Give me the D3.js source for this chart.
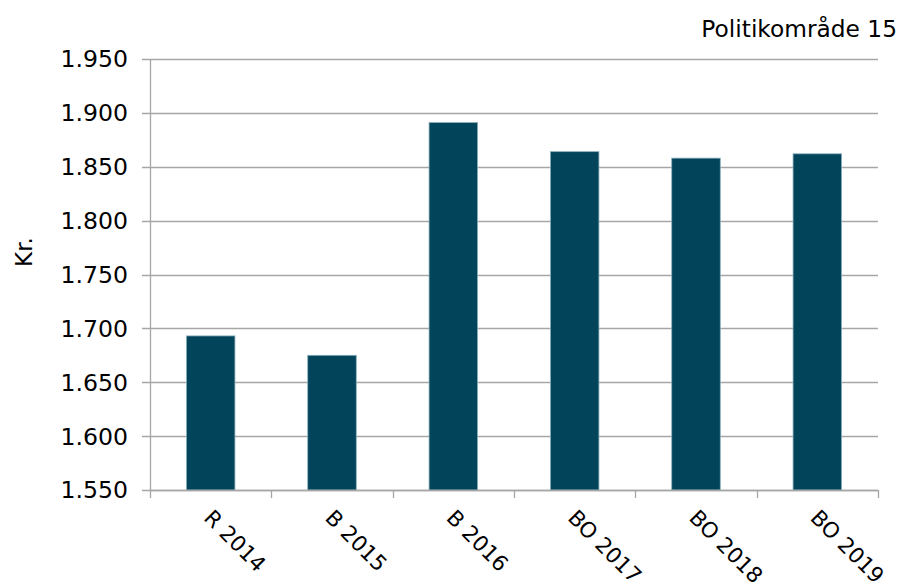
<!DOCTYPE html>
<html><head><meta charset="utf-8">
<script src="https://cdn.jsdelivr.net/npm/d3@7"></script>
<style>body{margin:0;background:#fff}svg{display:block}text{font-family:"DejaVu Sans",Verdana,sans-serif;fill:#000}</style>
</head><body>
<svg id="c" width="903" height="586"></svg>
<script>
const categories = ["R 2014","B 2015","B 2016","BO 2017","BO 2018","BO 2019"];
const values = [1.693,1.675,1.891,1.864,1.858,1.862];
const yTicks = [1.55,1.60,1.65,1.70,1.75,1.80,1.85,1.90,1.95];
const title = "Politikområde 15";
const yLabel = "Kr.";

const svg = d3.select("#c");
const L=150,R=878,T=59,B=490;
const x = d3.scaleBand().domain(categories).range([L,R]).paddingInner(0.6).paddingOuter(0.3);
const y = d3.scaleLinear().domain([1.55,1.95]).range([B,T]);
const grid="#a6a6a6";

// gridlines + y ticks
svg.append("g").selectAll("line").data(yTicks).join("line")
  .attr("x1",L-8).attr("x2",R).attr("y1",d=>Math.round(y(d))+0.5).attr("y2",d=>Math.round(y(d))+0.5)
  .attr("stroke",grid).attr("stroke-width",1.3);
svg.append("g").selectAll("text").data(yTicks).join("text")
  .attr("x",L-22).attr("y",d=>y(d)).attr("dy","0.36em").attr("text-anchor","end")
  .attr("font-size",23.6).text(d=>d3.format(".3f")(d));
// y axis line
svg.append("line").attr("x1",L+0.5).attr("x2",L+0.5).attr("y1",T).attr("y2",B).attr("stroke",grid).attr("stroke-width",1.3);

// bars
svg.append("g").selectAll("rect").data(values).join("rect")
  .attr("x",(d,i)=>x(categories[i])).attr("width",x.bandwidth())
  .attr("y",d=>y(d)).attr("height",d=>B-y(d))
  .attr("fill","#02445a").attr("stroke","#8aaebd").attr("stroke-width",0.8);

// x axis line + ticks at band boundaries
svg.append("line").attr("x1",L).attr("x2",R).attr("y1",B+0.5).attr("y2",B+0.5).attr("stroke",grid).attr("stroke-width",1.3);
const bounds = d3.range(categories.length+1).map(i=>L+i*(R-L)/categories.length);
svg.append("g").selectAll("line").data(bounds).join("line")
  .attr("x1",d=>Math.round(d)+0.5).attr("x2",d=>Math.round(d)+0.5).attr("y1",B).attr("y2",B+8)
  .attr("stroke",grid).attr("stroke-width",1.3);

// x labels
svg.append("g").selectAll("text").data(categories).join("text")
  .attr("transform",d=>`translate(${x(d)+x.bandwidth()/2-8},${B+29}) rotate(45)`)
  .attr("text-anchor","start").attr("font-size",21.5).text(d=>d);

// title
svg.append("text").attr("x",897).attr("y",37).attr("text-anchor","end").attr("font-size",23.3).text(title);
// y label
svg.append("text").attr("transform",`translate(32,252) rotate(-90)`).attr("text-anchor","middle").attr("font-size",23).text(yLabel);
</script>
</body></html>
